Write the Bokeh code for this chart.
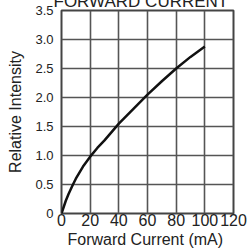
from bokeh.plotting import figure
from bokeh.models import FixedTicker, Range1d, NumeralTickFormatter
from bokeh.embed import file_html
from bokeh.resources import INLINE

current_ma = [0, 3, 5, 8, 10, 15, 20, 25, 30, 40, 50, 60, 70, 80, 90, 100]
rel_intensity = [0, 0.22, 0.34, 0.5, 0.6, 0.81, 0.98, 1.13, 1.26, 1.55, 1.8, 2.05, 2.28, 2.5, 2.7, 2.88]
x_ticks = [0, 20, 40, 60, 80, 100, 120]
y_ticks = [0, 0.5, 1.0, 1.5, 2.0, 2.5, 3.0, 3.5]
title_text = "FORWARD CURRENT"
x_label = "Forward Current  (mA)"
y_label = "Relative Intensity"

FONT = "Liberation Sans"
TXT = "#222222"
TOP = 30

p = figure(frame_width=172, frame_height=203, output_backend="svg", toolbar_location=None,
           x_range=Range1d(0, 120), y_range=Range1d(0, 3.5),
           min_border_left=61, min_border_right=16, min_border_top=TOP, min_border_bottom=35,
           title=title_text,
           styles={"position": "absolute", "left": "0px", "top": f"{10 - TOP}px"})
p.background_fill_color = "white"
p.border_fill_color = "white"
p.outline_line_color = "#444444"
p.outline_line_width = 2

p.title.align = "left"
p.title.offset = -8
p.title.text_font = FONT
p.title.text_font_size = "17px"
p.title.text_font_style = "normal"
p.title.text_color = TXT
p.title.standoff = 0

p.line(current_ma, rel_intensity, line_color="#111111", line_width=2.5)

for ax in (p.xaxis[0], p.yaxis[0]):
    ax.axis_line_color = None
    ax.major_tick_line_color = None
    ax.minor_tick_line_color = None
    ax.major_tick_out = 0
    ax.major_tick_in = 0
    ax.major_label_text_font = FONT
    ax.major_label_text_color = TXT
    ax.axis_label_text_font = FONT
    ax.axis_label_text_font_style = "normal"
    ax.axis_label_text_color = TXT

p.xaxis.major_label_text_font_size = "16px"
p.yaxis.major_label_text_font_size = "13px"
p.xaxis.axis_label_text_font_size = "16px"
p.yaxis.axis_label_text_font_size = "16px"
p.xaxis.ticker = FixedTicker(ticks=x_ticks)
p.yaxis.ticker = FixedTicker(ticks=y_ticks)
p.yaxis.formatter = NumeralTickFormatter(format="0.0")
p.yaxis.major_label_overrides = {0: "0"}
p.xaxis.major_label_standoff = 0
p.yaxis.major_label_standoff = 8
p.xaxis.axis_label = x_label
p.yaxis.axis_label = y_label
p.xaxis.axis_label_standoff = 2
p.yaxis.axis_label_standoff = 8

p.grid.grid_line_color = "#555555"
p.grid.grid_line_width = 1.6
p.xgrid.ticker = FixedTicker(ticks=x_ticks)
p.ygrid.ticker = FixedTicker(ticks=y_ticks)

open("out.html", "w").write(file_html(p, INLINE))
